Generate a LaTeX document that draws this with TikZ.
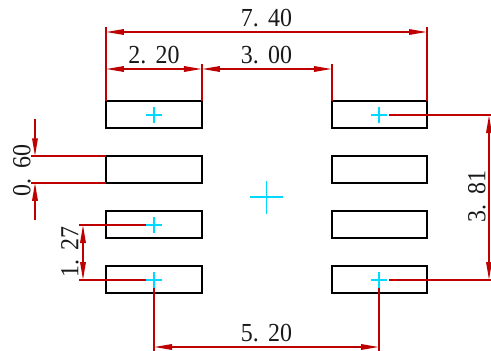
\documentclass[tikz,border=0pt]{standalone}
\usepackage{fontspec}
\setmainfont[WordSpace=1.25]{Liberation Serif}
\usetikzlibrary{arrows.meta}
\definecolor{dimred}{HTML}{BE0000}
\definecolor{crosscyan}{HTML}{00D8FF}
\newcommand{\dimtxt}[1]{\scalebox{.92}[1]{\fontsize{26}{26}\selectfont #1}}
\tikzset{
  pad/.style={draw=black,line width=1.9pt,minimum height=26.5pt,inner sep=0pt,outer sep=0pt},
  padl/.style={pad,minimum width=96pt},
  padr/.style={pad,minimum width=95.1pt},
  ext/.style={draw=dimred,line width=1.6pt},
  dim/.style={draw=dimred,line width=1.6pt,{Triangle[length=18pt,width=5.5pt]}-{Triangle[length=18pt,width=5.5pt]}},
  tipend/.style={draw=dimred,line width=1.6pt,-{Triangle[length=18pt,width=5.5pt]}},
  label/.style={inner sep=0pt,text=black!90},
  cross/.style={draw=crosscyan,line width=1.6pt}
}
\begin{document}
\begin{tikzpicture}[x=1pt,y=-1pt]
\useasboundingbox (0,0) rectangle (491,351);
% pads
\node[padl] (l1) at (153.9,114.5) {};
\node[padl] (l2) at (153.9,169.5) {};
\node[padl] (l3) at (153.9,224.5) {};
\node[padl] (l4) at (153.9,279.5) {};
\node[padr] (r1) at (379.45,114.5) {};
\node[padr] (r2) at (379.45,169.5) {};
\node[padr] (r3) at (379.45,224.5) {};
\node[padr] (r4) at (379.45,279.5) {};
% centres
\coordinate (cl1) at (154,115);
\coordinate (cl3) at (154,225);
\coordinate (cl4) at (154,280);
\coordinate (cr1) at (379,115);
\coordinate (cr4) at (379,280);
\coordinate (cm) at (266.5,197);
% extension lines
\coordinate (a1) at (l1.north west |- 0,27);
\coordinate (a2) at (r1.north east |- 0,27);
\coordinate (a3) at (l1.north east |- 0,64);
\coordinate (a4) at (r1.north west |- 0,64);
\draw[ext] (l1.north west) -- (a1);
\draw[ext] (r1.north east) -- (a2);
\draw[ext] (l1.north east) -- (a3);
\draw[ext] (r1.north west) -- (a4);
\coordinate (b1) at (31,0 |- l2.north west);
\coordinate (b2) at (31,0 |- l2.south west);
\draw[ext] (l2.north west) -- (b1);
\draw[ext] (l2.south west) -- (b2);
\coordinate (c1) at (79,225);
\coordinate (c2) at (79,280);
\coordinate (c1e) at (146,225);
\coordinate (c2e) at (146,280);
\draw[ext] (c1e) -- (c1);
\draw[ext] (c2e) -- (c2);
\coordinate (e1) at (154,288);
\coordinate (e2) at (379,288);
\coordinate (e1b) at (154,351);
\coordinate (e2b) at (379,351);
\draw[ext] (e1) -- (e1b);
\draw[ext] (e2) -- (e2b);
\coordinate (f1) at (389,115);
\coordinate (f2) at (389,280);
\coordinate (f1b) at (491,115);
\coordinate (f2b) at (491,280);
\draw[ext] (f1) -- (f1b);
\draw[ext] (f2) -- (f2b);
% dimension lines
\coordinate (d1a) at (a1 |- 0,32);
\coordinate (d1b) at (a2 |- 0,32);
\draw[dim] (d1a) -- (d1b);
\coordinate (d2a) at (a1 |- 0,69);
\coordinate (d2b) at (a3 |- 0,69);
\coordinate (d2c) at (a4 |- 0,69);
\draw[dim] (d2a) -- (d2b);
\draw[dim] (d2b) -- (d2c);
\coordinate (d3a) at (35,119);
\coordinate (d3b) at (35 ,0 |- b1);
\coordinate (d3c) at (35,220);
\coordinate (d3d) at (35 ,0 |- b2);
\draw[tipend] (d3a) -- (d3b);
\draw[tipend] (d3c) -- (d3d);
\coordinate (d4a) at (83,225);
\coordinate (d4b) at (83,280);
\draw[dim] (d4a) -- (d4b);
\coordinate (d5a) at (154,347);
\coordinate (d5b) at (379,347);
\draw[dim] (d5a) -- (d5b);
\coordinate (d6a) at (489,115);
\coordinate (d6b) at (489,280);
\draw[dim] (d6a) -- (d6b);
% crosses
\foreach \c in {cl1,cl3,cl4,cr1,cr4}{
  \draw[cross] ([xshift=-8pt]\c) -- ([xshift=8pt]\c);
  \draw[cross] ([yshift=-8pt]\c) -- ([yshift=8pt]\c);
}
\draw[cross] ([xshift=-16.5pt]cm) -- ([xshift=16.5pt]cm);
\draw[cross] ([yshift=-16.5pt]cm) -- ([yshift=16.5pt]cm);
% labels
\node[label] (t740) at (266.5,18.5) {\dimtxt{7. 40}};
\node[label] (t220) at (154,55) {\dimtxt{2. 20}};
\node[label] (t300) at (266.5,55) {\dimtxt{3. 00}};
\node[label] (t520) at (266.5,333) {\dimtxt{5. 20}};
\node[label,rotate=90] (t060) at (22,170.5) {\dimtxt{0. 60}};
\node[label,rotate=90] (t127) at (70,252) {\dimtxt{1. 27}};
\node[label,rotate=90] (t381) at (477,196.5) {\dimtxt{3. 81}};
\end{tikzpicture}
\end{document}
